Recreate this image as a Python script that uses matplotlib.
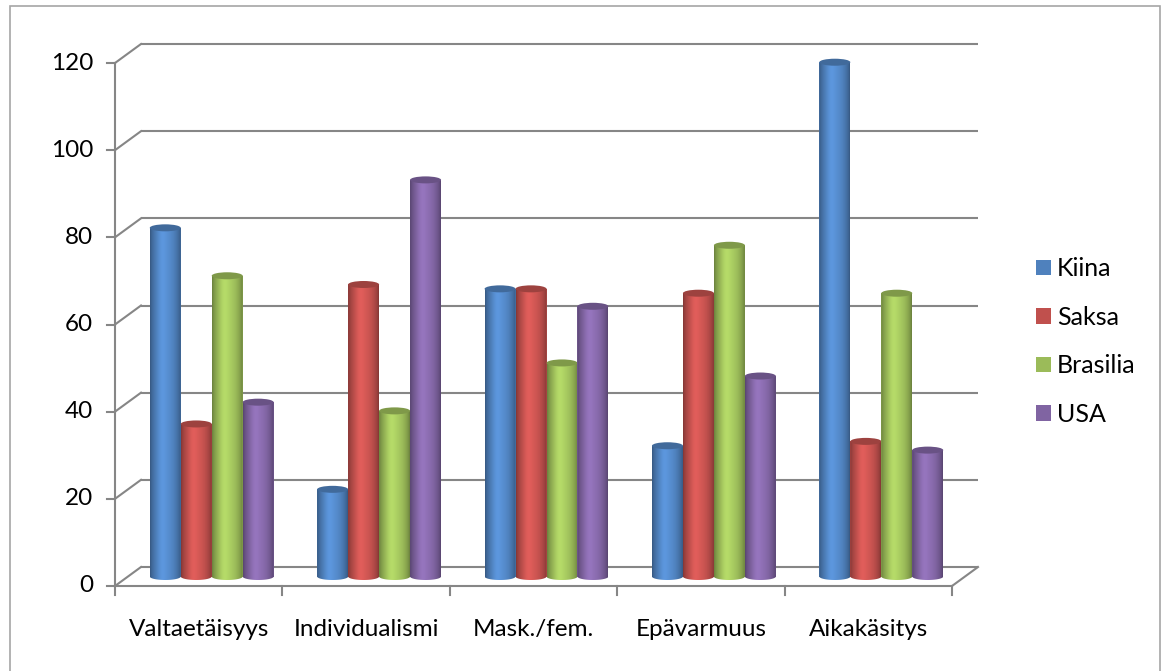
import numpy as np
import matplotlib.pyplot as plt
from matplotlib.patches import Ellipse, Rectangle, PathPatch, Patch
from matplotlib.path import Path
import matplotlib.colors as mcolors

categories = ["Valtaetäisyys", "Individualismi", "Mask./fem.", "Epävarmuus", "Aikakäsitys"]
series_names = ["Kiina", "Saksa", "Brasilia", "USA"]
kiina = [80, 20, 66, 30, 118]
saksa = [35, 67, 66, 65, 31]
brasilia = [69, 38, 49, 76, 65]
usa = [40, 91, 62, 46, 29]
y_ticks = [0, 20, 40, 60, 80, 100, 120]

series = [kiina, saksa, brasilia, usa]
colors = ["#4F81BD", "#C0504D", "#9BBB59", "#8064A2"]
grid_c = "#868686"

plt.rcParams['font.family'] = ['Lato', 'DejaVu Sans']

W, H = 1161, 671
fig = plt.figure(figsize=(W / 100, H / 100), dpi=100)
# front plane of the 3d box: x 115..952 px, y 586 (0) .. 63 (120) px
ax = fig.add_axes([115 / W, (H - 586) / H, 837 / W, 523 / H])
ax.set_xlim(0, 5)
ax.set_ylim(0, 120)
ax.axis('off')

# depth of the box in pixels -> data units
px_x = 837 / 5
px_y = 523 / 120
dx, dy = 26 / px_x, 19 / px_y

# back wall gridlines + left wall diagonals
for v in y_ticks:
    ax.plot([dx, 5 + dx], [v + dy, v + dy], color=grid_c, lw=1.5, clip_on=False,
            solid_capstyle='butt', zorder=1)
    ax.plot([0, dx], [v, v + dy], color=grid_c, lw=1.5, clip_on=False, zorder=1)
    ax.plot([-0.048, 0], [v, v], color=grid_c, lw=1.5, clip_on=False, zorder=1)
    ax.text(-0.13, v, str(v), ha='right', va='center', fontsize=17.5, color='black')

# floor front edge, right floor edge, front vertical axis
ax.plot([0, 5], [0, 0], color=grid_c, lw=1.5, clip_on=False, zorder=1)
ax.plot([5, 5 + dx], [0, dy], color=grid_c, lw=1.5, clip_on=False, zorder=1)
ax.plot([0, 0], [0, 120], color=grid_c, lw=1.5, clip_on=False, zorder=1)
for k in range(6):
    ax.plot([k, k], [0, -2.1], color=grid_c, lw=1.5, clip_on=False, zorder=1)

for i, cat in enumerate(categories):
    ax.text(i + 0.5, -11.5, cat, ha='center', va='baseline', fontsize=17.5)

# cylinders
bw = 0.185
eh = 7 / px_y
base = dy / 2
t = np.linspace(0, 1, 64)
shade = 0.68 + 0.42 * np.sin(np.pi * t) ** 0.7
shade = shade * (1 + 0.08 * np.exp(-((t - 0.38) / 0.15) ** 2))

for j, (vals, c) in enumerate(zip(series, colors)):
    rgb = np.array(mcolors.to_rgb(c))
    grad = np.clip(rgb[None, :] * shade[:, None], 0, 1)[None, :, :]
    top_c = np.clip(rgb * 0.82, 0, 1)
    for i, v in enumerate(vals):
        x0 = i + 0.13 + j * bw + dx / 2
        z = 2 + i + j * 0.1
        ax.bar(x0, v, width=bw, bottom=base, align='edge', color=c, zorder=z,
               clip_on=False)
        # outline: rectangle sides plus lower half ellipse
        arc_t = np.linspace(np.pi, 2 * np.pi, 40)
        arc = np.column_stack([x0 + bw / 2 + bw / 2 * np.cos(arc_t),
                               base + eh / 2 * np.sin(arc_t)])
        verts = np.vstack([[[x0, base + v]], arc, [[x0 + bw, base + v]], [[x0, base + v]]])
        clip = PathPatch(Path(verts), transform=ax.transData)
        im = ax.imshow(grad, extent=[x0, x0 + bw, base - eh / 2, base + v],
                       aspect='auto', zorder=z + 0.01, interpolation='bilinear')
        im.set_clip_path(clip)
        ax.add_patch(Ellipse((x0 + bw / 2, base + v), bw, eh, facecolor=top_c,
                             edgecolor='none', zorder=z + 0.02, clip_on=False))

ax.set_xlim(0, 5)
ax.set_ylim(0, 120)

handles = [Patch(facecolor=c, edgecolor='none') for c in colors]
fig.legend(handles, series_names, loc='center left', bbox_to_anchor=(1036 / W, 1 - 341.5 / H),
           frameon=False, fontsize=18, handlelength=0.6, handleheight=0.6,
           handletextpad=0.24, labelspacing=1.02, borderpad=0, borderaxespad=0)

fig.add_artist(Rectangle((10 / W, -0.01), 1150 / W, 1.01 - 6 / H, transform=fig.transFigure,
                         fill=False, edgecolor='#a6a6a6', lw=1.2))

fig.savefig('out.png', dpi=100)
